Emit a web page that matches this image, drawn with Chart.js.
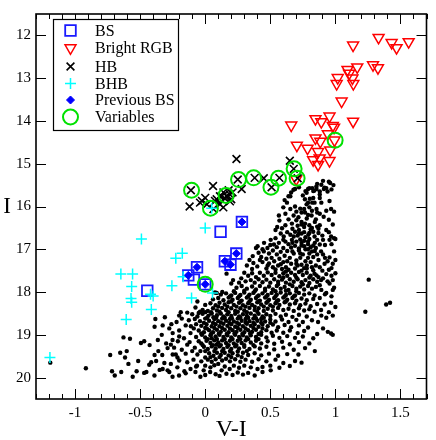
<!DOCTYPE html>
<html>
<head>
<meta charset="utf-8">
<script src="https://cdn.jsdelivr.net/npm/chart.js@4.4.1/dist/chart.umd.min.js"></script>
<style>
  body { margin: 0; background: #fff; }
  #wrap { width: 436px; height: 440px; }
</style>
</head>
<body>
<div id="wrap"><canvas id="cmd" width="436" height="440"></canvas></div>
<script>
const SERIF = "'Liberation Serif', 'DejaVu Serif', serif";

// every pair is [V-I, I]
const blueStragglers = [
  [-0.445, 17.97], [0.118, 16.59], [-0.087, 17.71],
  [-0.13, 17.61], [-0.063, 17.42], [0.0, 17.82], [0.151, 17.28], [0.194, 17.36], [0.239, 17.10], [0.282, 16.36],
];
const previousBS = [
  [-0.13, 17.61], [-0.063, 17.42], [0.0, 17.82], [0.151, 17.28], [0.194, 17.36], [0.239, 17.10], [0.282, 16.36],
];
const brightRGB = [
  [1.332, 12.05], [1.136, 12.23], [1.432, 12.17], [1.47, 12.29], [1.563, 12.15], [1.289, 12.69], [1.327, 12.76],
  [1.168, 12.74], [1.093, 12.80], [1.105, 12.89], [1.131, 13.0], [1.018, 12.99], [1.01, 13.13], [1.138, 13.13],
  [1.048, 13.54], [0.661, 14.10], [0.847, 13.95], [0.892, 14.02], [0.955, 13.89], [0.98, 14.11], [1.136, 14.01],
  [0.942, 14.30], [0.847, 14.40], [0.884, 14.48], [0.993, 14.45], [0.704, 14.57], [0.786, 14.64], [0.867, 14.72],
  [0.96, 14.68], [0.829, 14.91], [0.879, 14.87], [0.955, 14.93], [0.867, 15.02], [0.699, 15.36], [0.99, 14.15],
];
const horizontalBranch = [
  [0.24, 14.89], [-0.11, 15.62], [-0.12, 16.0], [0.06, 15.52], [0.25, 15.37], [0.28, 15.59], [0.38, 15.33],
  [0.45, 15.34], [0.51, 15.55], [0.57, 15.33], [0.65, 14.93], [0.68, 15.12], [0.71, 15.34],
  [-0.04, 15.91], [-0.025, 15.87], [0.0, 15.8], [0.013, 15.95], [0.063, 16.06], [0.075, 15.87], [0.088, 15.83],
  [0.113, 15.76], [0.113, 15.95], [0.126, 15.76], [0.139, 16.02], [0.14, 15.67], [0.148, 15.80], [0.164, 15.76],
  [0.18, 15.62], [0.186, 15.71], [0.2, 15.83], [0.21, 15.67], [0.19, 15.88],
];
const blueHB = [
  [-1.193, 19.53], [-0.49, 16.76], [-0.648, 17.58], [-0.558, 17.58], [-0.565, 17.87], [-0.57, 18.15],
  [-0.565, 18.24], [-0.607, 18.64], [-0.42, 18.05], [-0.40, 18.09], [-0.414, 18.41], [-0.256, 17.85],
  [-0.105, 18.14], [-0.176, 17.09], [-0.226, 17.21], [-0.17, 17.64], [0.0, 16.50], [0.05, 16.04], [0.056, 18.02],
];
const variables = [
  [-0.105, 15.62], [0.04, 16.04], [0.16, 15.74], [0.256, 15.37], [0.372, 15.33], [0.505, 15.55],
  [0.563, 15.34], [0.683, 15.12], [0.706, 15.34], [0.998, 14.45], [0.0, 17.82],
];
const fieldStars = [
  // top of the red giant branch
  [0.905, 15.40], [0.95, 15.42], [0.892, 15.49], [0.917, 15.56], [0.854, 15.53], [0.822, 15.57], [0.79, 15.59],
  [0.837, 15.63], [0.88, 15.65], [0.912, 15.59], [0.779, 15.68], [0.678, 15.61], [0.66, 15.67], [0.64, 15.76],
  [0.766, 15.83], [0.804, 15.82], [0.822, 15.91], [0.779, 15.95], [0.88, 15.80], [0.892, 15.91], [0.69, 15.59],
  [0.654, 15.76], [0.80, 15.57], [0.83, 15.64], [0.77, 15.64], [0.855, 15.59], [0.88, 15.72], [0.93, 15.57],
  [0.83, 15.80], [0.79, 15.91], [0.84, 15.91], [0.955, 15.87], [0.628, 15.91], [0.86, 15.47], [0.96, 15.45],
  [0.985, 15.5], [0.94, 15.65], [0.97, 15.6], [0.75, 15.74], [0.72, 15.55], [0.61, 15.85],
  // I 16 - 16.5
  [0.80, 16.02], [0.855, 16.06], [0.88, 16.17], [0.817, 16.21], [0.767, 16.14], [0.967, 16.06], [0.654, 16.06],
  [0.566, 16.21], [0.616, 16.17], [0.679, 16.21], [0.716, 16.25], [0.74, 16.14], [0.553, 16.48], [0.59, 16.51],
  [0.616, 16.44], [0.666, 16.40], [0.70, 16.32], [0.767, 16.40], [0.80, 16.44], [0.842, 16.36], [0.88, 16.44],
  [0.78, 16.28], [0.73, 16.05], [0.69, 16.0], [0.85, 16.3], [0.91, 16.24], [0.95, 16.31], [0.99, 16.12],
  [0.76, 16.48], [0.64, 16.3], [0.7, 16.12], [0.82, 16.1], [0.6, 16.02], [0.93, 16.1], [0.74, 16.36],
  [0.86, 16.47], [0.98, 16.42], [0.71, 16.45], [0.79, 16.2], [0.57, 16.33], [0.76, 16.06], [0.86, 16.14],
  [0.74, 16.42], [0.82, 16.5],
  // I 16.5 - 17
  [0.54, 16.55], [0.93, 16.55], [0.967, 16.70], [0.99, 16.74], [0.955, 16.78], [0.83, 16.59], [0.792, 16.66],
  [0.74, 16.63], [0.69, 16.59], [0.654, 16.66], [0.603, 16.70], [0.54, 16.74], [0.503, 16.78], [0.452, 16.85],
  [0.39, 16.97], [0.402, 16.93], [0.44, 17.0], [0.478, 16.97], [0.528, 16.89], [0.566, 16.85], [0.616, 16.82],
  [0.666, 16.78], [0.70, 16.82], [0.74, 16.85], [0.79, 16.82], [0.842, 16.85], [0.88, 16.89], [0.905, 16.78],
  [0.72, 16.55], [0.76, 16.6], [0.71, 16.68], [0.77, 16.72], [0.73, 16.77], [0.68, 16.7], [0.8, 16.76],
  [0.84, 16.7], [0.87, 16.62], [0.9, 16.68], [0.86, 16.78], [0.63, 16.6], [0.58, 16.63], [0.6, 16.78],
  [0.64, 16.88], [0.69, 16.92], [0.72, 16.98], [0.76, 16.93], [0.81, 16.95], [0.85, 16.97], [0.92, 16.9],
  [0.97, 16.88], [0.5, 16.9], [0.55, 16.95], [0.6, 16.97], [0.66, 16.96], [0.77, 17.0], [1.0, 16.76],
  [0.95, 16.6], [0.87, 16.52], [0.81, 16.53], [0.67, 16.52], [0.74, 16.91], [0.79, 16.88], [0.83, 16.91],
  [0.67, 16.85], [0.76, 16.8], [0.72, 16.63], [0.8, 16.62],
  // I 17 - 17.5
  [0.365, 17.16], [0.79, 17.0], [0.842, 17.04], [0.905, 17.12], [0.955, 17.19], [0.98, 17.34], [0.917, 17.34],
  [0.88, 17.42], [0.83, 17.49], [0.34, 17.25], [0.37, 17.32], [0.41, 17.08], [0.45, 17.05], [0.49, 17.1],
  [0.43, 17.18], [0.47, 17.22], [0.52, 17.03], [0.55, 17.12], [0.51, 17.2], [0.44, 17.3], [0.49, 17.33],
  [0.53, 17.28], [0.58, 17.06], [0.61, 17.15], [0.57, 17.22], [0.6, 17.3], [0.56, 17.38], [0.63, 17.04],
  [0.65, 17.2], [0.68, 17.1], [0.7, 17.26], [0.66, 17.34], [0.62, 17.42], [0.69, 17.45], [0.72, 17.03],
  [0.75, 17.12], [0.73, 17.2], [0.77, 17.28], [0.74, 17.36], [0.78, 17.45], [0.8, 17.1], [0.83, 17.18],
  [0.81, 17.3], [0.85, 17.38], [0.87, 17.25], [0.89, 17.05], [0.94, 17.28], [0.97, 17.44], [1.0, 17.25],
  [0.95, 17.48], [0.9, 17.5], [0.71, 17.38], [0.64, 17.48], [0.59, 17.46], [0.52, 17.42], [0.47, 17.45],
  [0.4, 17.4], [0.36, 17.46], [0.32, 17.38], [0.76, 17.44], [0.86, 17.12], [0.92, 17.2], [0.99, 17.05],
  [0.48, 17.38], [0.54, 17.47], [0.67, 17.05], [0.63, 17.28], [0.82, 17.42], [0.79, 17.2], [0.58, 17.35],
  [0.42, 17.25], [0.7, 17.34], [0.78, 17.38], [0.73, 17.1], [0.82, 17.05],
  // I 17.5 - 18
  [0.164, 17.57], [0.214, 17.72], [0.277, 17.68], [0.2, 17.8], [0.26, 17.78], [0.131, 18.0], [0.088, 18.02],
  [0.3, 17.55], [0.33, 17.62], [0.36, 17.56], [0.39, 17.65], [0.42, 17.55], [0.45, 17.62], [0.48, 17.54],
  [0.51, 17.6], [0.54, 17.55], [0.57, 17.63], [0.6, 17.56], [0.63, 17.62], [0.66, 17.55], [0.69, 17.6],
  [0.72, 17.53], [0.75, 17.6], [0.78, 17.55], [0.81, 17.62], [0.84, 17.57], [0.87, 17.65], [0.855, 17.61],
  [0.905, 17.68], [0.93, 17.58], [0.97, 17.62], [1.0, 17.56], [0.62, 17.52], [0.74, 17.5],
  [0.31, 17.75], [0.35, 17.72], [0.38, 17.78], [0.41, 17.7], [0.44, 17.77], [0.47, 17.71], [0.5, 17.78],
  [0.53, 17.7], [0.56, 17.76], [0.59, 17.71], [0.62, 17.78], [0.65, 17.7], [0.68, 17.76], [0.71, 17.7],
  [0.74, 17.77], [0.77, 17.72], [0.8, 17.79], [0.83, 17.7], [0.86, 17.76], [0.89, 17.72], [0.94, 17.75],
  [0.98, 17.72], [0.6, 17.66], [0.7, 17.66], [0.8, 17.66], [0.65, 17.82], [0.75, 17.82], [0.56, 17.82],
  [0.24, 17.9], [0.28, 17.86], [0.32, 17.92], [0.36, 17.87], [0.39, 17.94], [0.42, 17.86],
  [0.46, 17.92], [0.49, 17.87], [0.52, 17.94], [0.55, 17.86], [0.58, 17.92], [0.61, 17.88], [0.64, 17.95],
  [0.67, 17.86], [0.7, 17.92], [0.73, 17.87], [0.76, 17.94], [0.79, 17.86], [0.82, 17.92], [0.85, 17.88],
  [0.955, 17.80], [0.98, 17.95], [0.93, 18.02], [0.892, 17.95], [0.88, 17.84], [0.99, 17.9],
  // I 18 - 18.5
  [0.22, 17.98], [0.3, 17.97], [0.38, 17.98], [0.46, 17.97], [0.54, 17.98], [0.62, 17.97], [0.7, 17.98],
  [0.075, 18.01], [-0.06, 18.22], [0.12, 18.06], [0.16, 18.03], [0.2, 18.08], [0.23, 18.02], [0.27, 18.07],
  [0.3, 18.01], [0.34, 18.06], [0.37, 18.02], [0.41, 18.08], [0.44, 18.03], [0.48, 18.07], [0.51, 18.02],
  [0.55, 18.06], [0.58, 18.01], [0.62, 18.07], [0.65, 18.03], [0.69, 18.08], [0.72, 18.02], [0.76, 18.06],
  [0.8, 18.03], [0.84, 18.08], [0.88, 18.14], [0.92, 18.05], [0.97, 18.1],
  [0.19, 18.1], [0.26, 18.1], [0.33, 18.1], [0.4, 18.1], [0.47, 18.1], [0.54, 18.1], [0.61, 18.1], [0.68, 18.1],
  [0.06, 18.17], [0.1, 18.14], [0.14, 18.19], [0.18, 18.13], [0.21, 18.18], [0.25, 18.14], [0.28, 18.2],
  [0.32, 18.13], [0.35, 18.18], [0.39, 18.14], [0.42, 18.2], [0.46, 18.13], [0.49, 18.18], [0.53, 18.14],
  [0.56, 18.19], [0.6, 18.13], [0.63, 18.18], [0.67, 18.14], [0.7, 18.2], [0.74, 18.15], [0.78, 18.19],
  [0.83, 18.16], [0.917, 18.29], [0.967, 18.25], [1.0, 18.35],
  [0.2, 18.22], [0.27, 18.22], [0.34, 18.22], [0.41, 18.22], [0.48, 18.22], [0.55, 18.22], [0.62, 18.22],
  [0.0, 18.3], [0.04, 18.26], [0.08, 18.31], [0.11, 18.25], [0.15, 18.29], [0.18, 18.24], [0.22, 18.3],
  [0.26, 18.25], [0.29, 18.31], [0.33, 18.26], [0.36, 18.3], [0.4, 18.24], [0.43, 18.29], [0.47, 18.25],
  [0.5, 18.31], [0.54, 18.26], [0.57, 18.3], [0.61, 18.24], [0.65, 18.29], [0.69, 18.26], [0.73, 18.31],
  [0.77, 18.27], [0.81, 18.33], [0.86, 18.28],
  [0.1, 18.34], [0.17, 18.34], [0.24, 18.34], [0.31, 18.34], [0.38, 18.34], [0.45, 18.34], [0.52, 18.34],
  [-0.138, 18.48], [-0.075, 18.36], [-0.05, 18.49], [-0.188, 18.47], [-0.02, 18.42], [0.02, 18.44],
  [0.06, 18.38], [0.09, 18.43], [0.13, 18.37], [0.16, 18.42], [0.2, 18.38], [0.23, 18.44], [0.27, 18.38],
  [0.3, 18.43], [0.34, 18.37], [0.38, 18.42], [0.41, 18.38], [0.45, 18.44], [0.48, 18.39], [0.52, 18.43],
  [0.56, 18.37], [0.6, 18.42], [0.64, 18.39], [0.68, 18.44], [0.72, 18.38], [0.76, 18.43], [0.8, 18.4],
  [0.84, 18.46], [0.89, 18.42], [0.95, 18.47],
  [-0.04, 18.46], [0.0, 18.47], [0.045, 18.47], [0.11, 18.46], [0.18, 18.47], [0.25, 18.46], [0.32, 18.47],
  [0.4, 18.46],
  // I 18.5 - 19
  [-0.2, 18.55], [-0.1, 18.52], [-0.06, 18.57], [-0.02, 18.51], [0.025, 18.55], [0.063, 18.59], [0.05, 18.5],
  [0.09, 18.54], [0.12, 18.5], [0.14, 18.57], [0.17, 18.52], [0.2, 18.56], [0.23, 18.51], [0.26, 18.57],
  [0.29, 18.52], [0.32, 18.56], [0.35, 18.5], [0.38, 18.55], [0.41, 18.51], [0.44, 18.57], [0.47, 18.52],
  [0.5, 18.56], [0.54, 18.51], [0.58, 18.57], [0.62, 18.53], [0.67, 18.58], [0.72, 18.53], [0.78, 18.57],
  [0.892, 18.55], [0.98, 18.55], [0.93, 18.6],
  [0.015, 18.6], [0.085, 18.6], [0.15, 18.6], [0.205, 18.61], [0.27, 18.6], [0.33, 18.6], [0.39, 18.61],
  [0.45, 18.6],
  [-0.126, 18.66], [-0.08, 18.63], [-0.04, 18.68], [0.0, 18.62], [0.03, 18.67], [0.07, 18.63], [0.1, 18.68],
  [0.13, 18.62], [0.16, 18.67], [0.19, 18.63], [0.22, 18.69], [0.25, 18.62], [0.28, 18.67], [0.31, 18.63],
  [0.34, 18.68], [0.37, 18.62], [0.4, 18.67], [0.43, 18.63], [0.46, 18.69], [0.5, 18.64], [0.54, 18.69],
  [0.59, 18.64], [0.64, 18.7], [0.7, 18.65], [0.75, 18.7], [0.82, 18.66], [0.867, 18.70],
  [-0.01, 18.72], [0.06, 18.72], [0.12, 18.71], [0.185, 18.72], [0.245, 18.72], [0.31, 18.71], [0.37, 18.72],
  [0.43, 18.72], [0.5, 18.72],
  [-0.15, 18.78], [-0.11, 18.8], [-0.07, 18.75], [-0.03, 18.79], [0.013, 18.85], [0.01, 18.75], [0.05, 18.8],
  [0.08, 18.75], [0.11, 18.8], [0.14, 18.74], [0.17, 18.79], [0.2, 18.75], [0.23, 18.81], [0.26, 18.75],
  [0.29, 18.8], [0.32, 18.74], [0.35, 18.79], [0.38, 18.75], [0.41, 18.81], [0.44, 18.76], [0.48, 18.8],
  [0.52, 18.76], [0.56, 18.82], [0.61, 18.77], [0.66, 18.82], [0.72, 18.78], [0.79, 18.83], [0.905, 18.85],
  [0.0, 18.84], [0.07, 18.84], [0.13, 18.84], [0.19, 18.85], [0.25, 18.84], [0.31, 18.85], [0.37, 18.84],
  [0.44, 18.85],
  [-0.25, 18.96], [-0.276, 18.85], [-0.088, 18.85], [-0.113, 18.96], [-0.05, 18.9], [-0.01, 18.94],
  [0.03, 18.89], [0.06, 18.94], [0.09, 18.88], [0.12, 18.93], [0.15, 18.88], [0.18, 18.94], [0.21, 18.89],
  [0.24, 18.93], [0.27, 18.88], [0.3, 18.94], [0.33, 18.89], [0.36, 18.93], [0.39, 18.88], [0.43, 18.94],
  [0.47, 18.89], [0.51, 18.95], [0.55, 18.9], [0.6, 18.95], [0.65, 18.9], [0.71, 18.96], [0.76, 18.91],
  [0.942, 18.93], [0.967, 18.97], [0.86, 18.98],
  [-0.03, 18.97], [0.045, 18.98], [0.105, 18.97], [0.165, 18.98], [0.225, 18.97], [0.285, 18.98],
  [0.345, 18.97], [0.41, 18.98],
  [-0.22, 18.7], [-0.18, 18.62], [-0.26, 18.75], [-0.2, 18.9], [-0.383, 18.63], [-0.31, 18.59],
  // I 19 - 19.5
  [-0.025, 19.0], [-0.163, 19.08], [-0.2, 19.04], [-0.07, 19.05], [0.0, 19.06], [0.05, 19.08], [0.04, 19.01],
  [0.08, 19.04], [0.11, 19.0], [0.14, 19.05], [0.17, 19.01], [0.2, 19.06], [0.23, 19.0], [0.26, 19.05],
  [0.29, 19.01], [0.32, 19.06], [0.35, 19.01], [0.39, 19.05], [0.43, 19.0], [0.47, 19.06], [0.52, 19.02],
  [0.57, 19.07], [0.63, 19.03], [0.69, 19.07], [0.75, 19.04], [0.83, 19.08], [0.98, 19.0],
  [0.02, 19.1], [0.09, 19.1], [0.15, 19.1], [0.21, 19.1], [0.27, 19.1], [0.33, 19.1], [0.41, 19.1],
  [-0.05, 19.15], [-0.12, 19.17], [-0.264, 19.23], [-0.239, 19.30], [-0.03, 19.2], [0.01, 19.14],
  [0.04, 19.19], [0.088, 19.23], [0.07, 19.13], [0.1, 19.18], [0.13, 19.13], [0.16, 19.19], [0.19, 19.14],
  [0.22, 19.2], [0.25, 19.14], [0.28, 19.19], [0.31, 19.13], [0.35, 19.18], [0.39, 19.14], [0.43, 19.2],
  [0.48, 19.15], [0.53, 19.21], [0.59, 19.16], [0.65, 19.22], [0.72, 19.17], [0.8, 19.2],
  [-0.02, 19.24], [0.06, 19.24], [0.12, 19.24], [0.18, 19.24], [0.24, 19.24], [0.3, 19.24], [0.37, 19.24],
  [-0.138, 19.23], [-0.1, 19.38], [-0.037, 19.38], [-0.08, 19.3], [-0.01, 19.28], [0.02, 19.33], [0.05, 19.27],
  [0.08, 19.32], [0.11, 19.27], [0.14, 19.33], [0.17, 19.28], [0.2, 19.33], [0.23, 19.27], [0.26, 19.32],
  [0.3, 19.28], [0.34, 19.33], [0.38, 19.27], [0.42, 19.32], [0.47, 19.28], [0.53, 19.34], [0.6, 19.3],
  [0.68, 19.35], [0.767, 19.31], [0.842, 19.38],
  [0.0, 19.38], [0.07, 19.38], [0.13, 19.38], [0.19, 19.38], [0.25, 19.39], [0.32, 19.38],
  [-0.226, 19.46], [-0.15, 19.44], [-0.06, 19.46], [0.0, 19.53], [0.03, 19.43], [0.063, 19.49], [0.09, 19.42],
  [0.12, 19.47], [0.15, 19.42], [0.18, 19.48], [0.21, 19.43], [0.25, 19.48], [0.29, 19.42], [0.33, 19.47],
  [0.38, 19.43], [0.43, 19.48], [0.49, 19.44], [0.56, 19.49], [0.63, 19.45], [0.716, 19.46],
  [0.04, 19.52], [0.11, 19.52], [0.2, 19.52], [0.28, 19.52],
  // I 19.5 - 20
  [-0.138, 19.64], [-0.063, 19.72], [0.1, 19.68], [-0.09, 19.58], [-0.03, 19.62], [0.02, 19.58], [0.05, 19.63],
  [0.08, 19.57], [0.13, 19.6], [0.16, 19.56], [0.19, 19.62], [0.23, 19.57], [0.27, 19.63], [0.31, 19.58],
  [0.36, 19.63], [0.41, 19.57], [0.47, 19.62], [0.54, 19.58], [0.69, 19.61], [0.74, 19.65], [0.6, 19.66],
  [-0.214, 19.76], [-0.113, 19.80], [-0.012, 19.83], [0.126, 19.83], [0.188, 19.80], [-0.07, 19.74],
  [0.0, 19.72], [0.04, 19.76], [0.07, 19.71], [0.15, 19.74], [0.22, 19.72], [0.26, 19.77], [0.3, 19.72],
  [0.35, 19.76], [0.402, 19.80], [0.44, 19.75], [0.5, 19.72], [0.57, 19.77], [0.65, 19.73],
  [-0.201, 19.95], [-0.075, 19.87], [-0.037, 19.98], [0.038, 19.87], [0.163, 19.91], [0.08, 19.92],
  [0.11, 19.96], [0.21, 19.94], [0.25, 19.88], [0.29, 19.93], [0.33, 19.89], [0.44, 19.87], [0.503, 19.83],
  [-0.15, 19.9], [0.0, 19.94], [0.38, 19.95],
  // sparse blue side
  [-1.19, 19.65], [-0.917, 19.78], [-0.73, 19.47], [-0.716, 19.85], [-0.695, 19.95], [-0.628, 19.06],
  [-0.578, 19.09], [-0.653, 19.42], [-0.603, 19.38], [-0.616, 19.53], [-0.645, 19.87], [-0.59, 19.68],
  [-0.557, 19.98], [-0.527, 19.85], [-0.515, 19.61], [-0.494, 19.19], [-0.469, 19.15], [-0.469, 19.89],
  [-0.452, 19.87], [-0.427, 19.24], [-0.389, 18.81], [-0.377, 19.61], [-0.415, 19.64], [-0.327, 18.78],
  [-0.334, 19.0], [-0.389, 19.47], [-0.314, 19.66], [-0.327, 19.80], [-0.289, 19.83], [-0.264, 19.68],
  [-0.276, 19.87], [-0.251, 19.98], [-0.251, 19.12], [-0.289, 19.31], [-0.25, 19.46], [-0.36, 19.38],
  [-0.33, 19.47], [-0.39, 19.95], [-0.35, 19.82], [-0.43, 19.7], [-0.2, 19.6], [-0.18, 19.35], [-0.16, 19.85],
  [-0.21, 19.15], [-0.3, 19.2], [-0.364, 19.12], [-0.213, 19.53],
  // red outliers
  [1.256, 17.71], [1.23, 18.46], [1.39, 18.29], [1.42, 18.25],
];

const xMajorTicks = [-1, -0.5, 0, 0.5, 1, 1.5];
const yTicks = [12, 13, 14, 15, 16, 17, 18, 19, 20];

const toPoints = (arr) => arr.map(([x, y]) => ({ x, y }));
const isMajorX = (v) => xMajorTicks.some((m) => Math.abs(m - v) < 1e-6);

const frameAndLegend = {
  id: 'frameAndLegend',
  afterDraw(chart) {
    const { ctx, chartArea: a, scales } = chart;
    ctx.save();
    ctx.strokeStyle = '#000';

    // inward tick marks on all four sides
    ctx.lineWidth = 1;
    ctx.beginPath();
    scales.x.ticks.forEach((t) => {
      const px = Math.round(scales.x.getPixelForValue(t.value)) + 0.5;
      const len = isMajorX(t.value) ? 10 : 5;
      ctx.moveTo(px, a.bottom); ctx.lineTo(px, a.bottom - len);
      ctx.moveTo(px, a.top); ctx.lineTo(px, a.top + len);
    });
    scales.y.ticks.forEach((t) => {
      const py = Math.round(scales.y.getPixelForValue(t.value)) + 0.5;
      ctx.moveTo(a.left, py); ctx.lineTo(a.left + 10, py);
      ctx.moveTo(a.right, py); ctx.lineTo(a.right - 10, py);
    });
    ctx.stroke();

    ctx.lineWidth = 1.6;
    ctx.strokeRect(a.left, a.top, a.right - a.left, a.bottom - a.top);

    // axis titles
    ctx.fillStyle = '#000';
    ctx.textAlign = 'center';
    ctx.textBaseline = 'middle';
    ctx.font = '24px ' + SERIF;
    ctx.fillText('V-I', (a.left + a.right) / 2, 430);
    ctx.font = '23px ' + SERIF;
    ctx.fillText('I', 7, (a.top + a.bottom) / 2);

    // legend box
    const legendSets = chart.data.datasets.filter((d) => d.inLegend);
    ctx.fillStyle = '#fff';
    ctx.fillRect(53, 19, 125, 111);
    ctx.lineWidth = 1.2;
    ctx.strokeRect(53.5, 19.5, 125, 111);
    const rows = [30.5, 48, 66.5, 83.5, 100, 117];
    legendSets.sort((p, q) => p.legendRank - q.legendRank).forEach((d, i) => {
      const y = rows[i];
      ctx.fillStyle = d.pointBackgroundColor;
      ctx.strokeStyle = d.pointBorderColor;
      ctx.lineWidth = d.pointBorderWidth;
      Chart.helpers.drawPoint(ctx, {
        pointStyle: d.pointStyle,
        rotation: d.pointRotation || 0,
        radius: d.pointRadius,
        borderWidth: d.pointBorderWidth,
      }, 70.5, y);
      ctx.fillStyle = '#000';
      ctx.textAlign = 'left';
      ctx.font = '16px ' + SERIF;
      ctx.fillText(d.label, 95, y + 1);
    });
    ctx.restore();
  },
};

const none = 'rgba(0,0,0,0)';

new Chart(document.getElementById('cmd'), {
  type: 'scatter',
  data: {
    datasets: [
      {
        label: 'Variables', data: toPoints(variables), inLegend: true, legendRank: 6, order: 0,
        pointStyle: 'circle', pointRadius: 7.5, pointBorderWidth: 2,
        pointBorderColor: 'rgb(0,225,0)', pointBackgroundColor: none,
      },
      {
        label: 'Previous BS', data: toPoints(previousBS), inLegend: true, legendRank: 5, order: 1,
        pointStyle: 'rectRot', pointRadius: 4, pointBorderWidth: 1,
        pointBorderColor: '#0000ff', pointBackgroundColor: '#0000ff',
      },
      {
        label: 'BHB', data: toPoints(blueHB), inLegend: true, legendRank: 4, order: 2,
        pointStyle: 'cross', pointRadius: 5.5, pointBorderWidth: 1.5,
        pointBorderColor: '#00ffff', pointBackgroundColor: none,
      },
      {
        label: 'HB', data: toPoints(horizontalBranch), inLegend: true, legendRank: 3, order: 3,
        pointStyle: 'crossRot', pointRadius: 5.5, pointBorderWidth: 1.6,
        pointBorderColor: '#000', pointBackgroundColor: none,
      },
      {
        label: 'Bright RGB', data: toPoints(brightRGB), inLegend: true, legendRank: 2, order: 4,
        pointStyle: 'triangle', pointRotation: 180, pointRadius: 6.3, pointBorderWidth: 1.5,
        pointBorderColor: '#ff0000', pointBackgroundColor: none,
      },
      {
        label: 'BS', data: toPoints(blueStragglers), inLegend: true, legendRank: 1, order: 5,
        pointStyle: 'rect', pointRadius: 7.5, pointBorderWidth: 1.8,
        pointBorderColor: '#1a1aff', pointBackgroundColor: none,
      },
      {
        label: 'field', data: toPoints(fieldStars), order: 9,
        pointStyle: 'circle', pointRadius: 2.2, pointBorderWidth: 0,
        pointBorderColor: '#000', pointBackgroundColor: '#000',
      },
    ],
  },
  options: {
    responsive: false,
    animation: false,
    events: [],
    layout: { padding: { top: 3, right: 3, left: 0, bottom: 0 } },
    plugins: { legend: { display: false }, tooltip: { enabled: false } },
    scales: {
      x: {
        type: 'linear', min: -1.3, max: 1.7,
        grid: { display: false, drawTicks: false }, border: { display: false },
        ticks: {
          stepSize: 0.1, autoSkip: false, maxRotation: 0, padding: 5, color: '#000',
          font: { family: SERIF, size: 15 },
          callback: (v) => (isMajorX(v) ? String(Math.round(v * 10) / 10) : ''),
        },
        afterFit: (s) => { s.height = 41; },
      },
      y: {
        type: 'linear', reverse: true, min: 11.5, max: 20.5,
        grid: { display: false, drawTicks: false }, border: { display: false },
        ticks: {
          padding: 5, color: '#000',
          font: { family: SERIF, size: 15 },
          callback: (v) => String(v),
        },
        afterBuildTicks: (s) => { s.ticks = yTicks.map((v) => ({ value: v })); },
        afterFit: (s) => { s.width = 36; },
      },
    },
  },
  plugins: [frameAndLegend],
});
</script>
</body>
</html>
